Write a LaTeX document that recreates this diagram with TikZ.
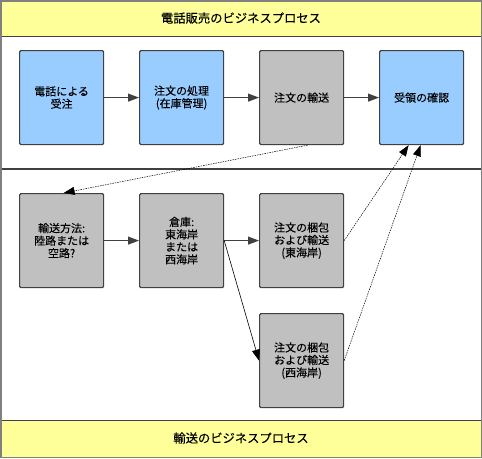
\documentclass[tikz,border=0pt]{standalone}
\usepackage{fontspec}
\setmainfont{Liberation Sans}
\newfontfamily\jp[FakeBold=0.1]{Noto Sans CJK JP}
\usetikzlibrary{arrows.meta}
\definecolor{boxblue}{HTML}{99CCFF}
\definecolor{boxgray}{HTML}{C0C0C0}
\definecolor{hdryellow}{HTML}{FFFF99}
\definecolor{edge}{HTML}{404040}
\tikzset{
  pbox/.style={draw=edge, line width=1.2pt, rounded corners=1.2pt, minimum width=84pt, minimum height=94pt, inner sep=0pt, align=center, font=\jp\fontsize{11}{12.5}\selectfont, anchor=north west, text=black},
  bluebox/.style={pbox, fill=boxblue},
  graybox/.style={pbox, fill=boxgray},
  flow/.style={draw=edge, line width=1pt, -{Triangle[length=11pt,width=8pt]}},
  diagflow/.style={draw=black, line width=0.6pt, -{Triangle[length=11pt,width=8pt]}},
  msg/.style={draw=black, line width=0.5pt, dash pattern=on 1.5pt off 1pt, -{Triangle[length=11pt,width=8pt]}},
  hdr/.style={font=\jp\fontsize{12.3}{14}\selectfont, text=black}
}
\begin{document}
\begin{tikzpicture}[x=1pt,y=-1pt]
\useasboundingbox (0,0) rectangle (482,458);
% lanes
\fill[white] (0,0) rectangle (482,458);
\fill[hdryellow] (1,1) rectangle (481,36);
\fill[hdryellow] (1,421) rectangle (481,457);
\draw[edge, line width=1.5pt] (1,36.5) -- (481,36.5);
\draw[edge, line width=1.5pt] (1,169) -- (481,169);
\draw[edge, line width=1.5pt] (1,420.5) -- (481,420.5);
\draw[gray, line width=1.5pt] (0.75,0.75) rectangle (481.25,457.25);
\node[hdr] (h1) at (241,18) {電話販売のビジネスプロセス};
\node[hdr] (h2) at (241,438) {輸送のビジネスプロセス};
% top row
\node[bluebox] (a1) at (19,50) {電話による\\受注};
\node[bluebox] (a2) at (139,50) {注文の処理\\(在庫管理)};
\node[graybox] (a3) at (259,50) {注文の輸送};
\node[bluebox] (a4) at (379,50) {受領の確認};
% bottom rows
\node[graybox] (b1) at (19,193) {輸送方法:\\陸路または\\空路?};
\node[graybox] (b2) at (139,193) {倉庫:\\東海岸\\または\\西海岸};
\node[graybox] (b3) at (259,193) {注文の梱包\\および輸送\\(東海岸)};
\node[graybox] (b4) at (259,313) {注文の梱包\\および輸送\\(西海岸)};
% connectors
\draw[flow] (a1.east) -- (a2.west);
\draw[flow] (a2.east) -- (a3.west);
\draw[flow] (a3.east) -- (a4.west);
\draw[flow] (b1.east) -- (b2.west);
\draw[flow] (b2.east) -- (b3.west);
\draw[diagflow] (b2.east) -- (b4.west);
\coordinate (s1) at ([xshift=6pt]a3.south);
\coordinate (t1) at ([xshift=2pt]b1.north);
\draw[msg] (s1) -- (t1);
\coordinate (t2) at ([xshift=-13pt]a4.south);
\coordinate (t3) at ([xshift=-1pt]a4.south);
\draw[msg] (b3.east) -- (t2);
\draw[msg] (b4.east) -- (t3);
\end{tikzpicture}
\end{document}
